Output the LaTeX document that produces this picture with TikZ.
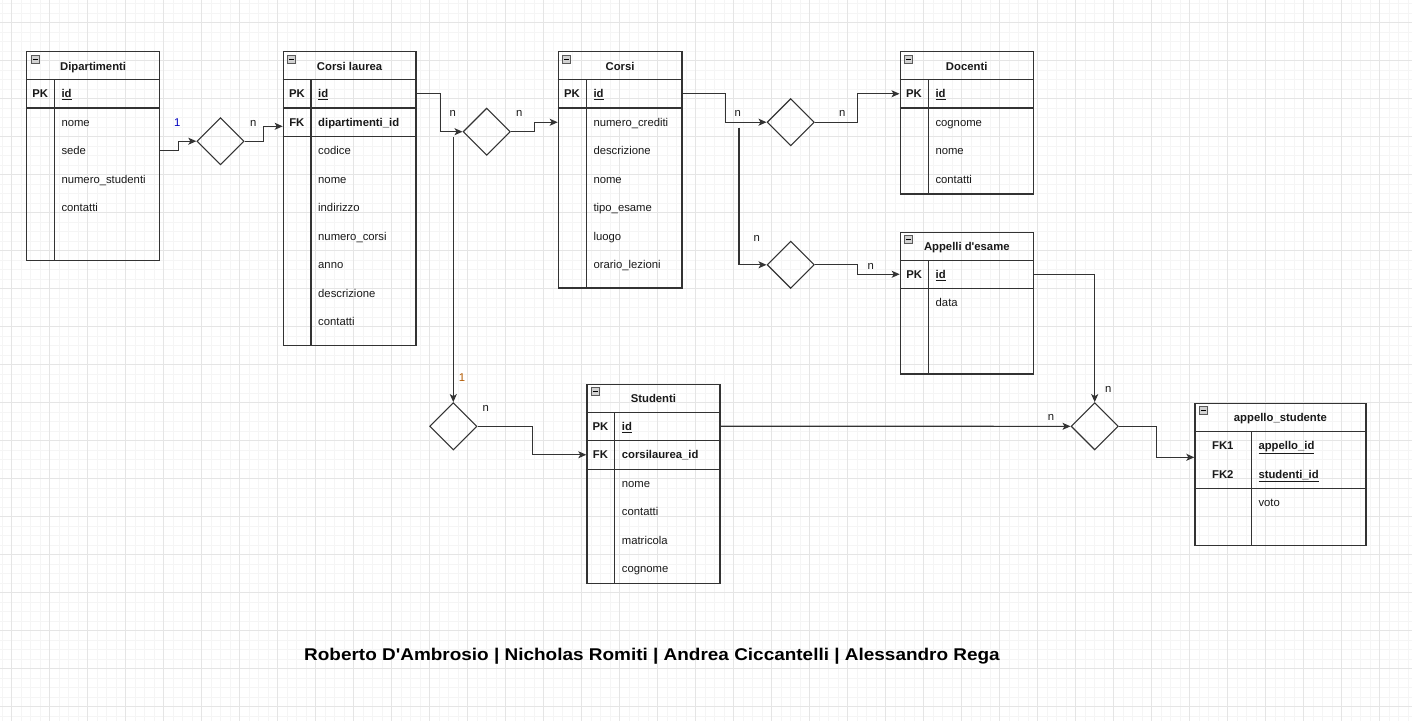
\documentclass[tikz,border=0pt]{standalone}
\usepackage{fontspec}
\setmainfont{Liberation Sans}
\usetikzlibrary{calc,arrows.meta,shapes.geometric}

\tikzset{
  minorgrid/.style={draw=gray!8, line width=0.6pt},
  majorgrid/.style={draw=gray!20, line width=0.6pt},
  tbl/.style={draw=black!80, line width=1.2pt, inner sep=0pt, anchor=north west},
  tblline/.style={draw=black!80, line width=1.2pt},
  iconbox/.style={draw=gray!70!black, fill=gray!35, line width=0.6pt},
  txt/.style={inner sep=0pt, text height=10.5pt, text depth=2.5pt, font=\fontsize{11.3}{13}\selectfont, text=black!90},
  fld/.style={txt, anchor=west},
  keyfld/.style={fld, font=\fontsize{11.3}{13}\selectfont\bfseries},
  key/.style={txt, font=\fontsize{11.3}{13}\selectfont\bfseries},
  ttl/.style={key},
  card/.style={txt},
  rel/.style={diamond, draw=black!80, line width=1.1pt, inner sep=0pt, minimum width=47.3pt, minimum height=47.3pt},
  conn/.style={draw=black!80, line width=1.1pt, -{Stealth[length=8pt,width=7pt,inset=2pt]}}
}

% table frame: name, top-left, size, title
\def\ertab(#1)(#2,#3)(#4,#5)#6{%
  \node[tbl, minimum width=#4pt, minimum height=#5pt] (#1) at (#2,#3) {};
  \draw[tblline] ($(#1.north west)+(0,28.5)$) -- ($(#1.north east)+(0,28.5)$);
  \draw[iconbox] ($(#1.north west)+(5,4)$) rectangle +(8,8);
  \draw[black, line width=0.8pt] ($(#1.north west)+(6.5,8)$) -- +(5,0);
  \node[ttl] (#1-t) at ($(#1.north)+(0,15)$) {#6};}

\begin{document}
\begin{tikzpicture}[x=1pt, y=-1pt]
			%%%%% START %%%%%
			
			\fill[white] (0,0) rectangle (1412,721);
			\useasboundingbox (0,0) rectangle (1412,721);
			
			\foreach \gx in {2,11.5,...,1412} \draw[minorgrid] (\gx,0) -- (\gx,721);
			\foreach \gy in {3.5,13,...,721} \draw[minorgrid] (0,\gy) -- (1412,\gy);
			\foreach \gx in {11.5,49.5,...,1412} \draw[majorgrid] (\gx,0) -- (\gx,721);
			\foreach \gy in {22.5,60.5,...,721} \draw[majorgrid] (0,\gy) -- (1412,\gy);
			
			%% Dipartimenti
			\ertab(dip)(26,51)(133,209){Dipartimenti}
			\draw[tblline] ($(dip.north west)+(0,57)$) -- ($(dip.north east)+(0,57)$);
			\draw[tblline] ($(dip.north west)+(28.3,28.5)$) -- ($(dip.south west)+(28.3,0)$);
			\node[key] (dip-k1) at (40.15,93.75) {PK};
			\node[keyfld] (dip-id) at (61.3,93.75) {\underline{id}};
			\foreach \f [count=\i] in {nome,sede,numero\_studenti,contatti}
				\node[fld] (dip-f\i) at (61.3,93.75+28.5*\i) {\f};
			
			%% Corsi laurea
			\ertab(cl)(282.7,51)(132.6,294){Corsi laurea}
			\draw[tblline] ($(cl.north west)+(0,57)$) -- ($(cl.north east)+(0,57)$);
			\draw[tblline] ($(cl.north west)+(0,85.5)$) -- ($(cl.north east)+(0,85.5)$);
			\draw[tblline] ($(cl.north west)+(28.3,28.5)$) -- ($(cl.south west)+(28.3,0)$);
			\node[key] (cl-k1) at (296.85,93.75) {PK};
			\node[key] (cl-k2) at (296.85,122.25) {FK};
			\node[keyfld] (cl-id) at (318,93.75) {\underline{id}};
			\node[keyfld] (cl-fk) at (318,122.25) {dipartimenti\_id};
			\foreach \f [count=\i] in {codice,nome,indirizzo,numero\_corsi,anno,descrizione,contatti}
				\node[fld] (cl-f\i) at (318,122.25+28.5*\i) {\f};
			
			%% Corsi
			\ertab(cor)(557.7,51)(123.6,236.3){Corsi}
			\draw[tblline] ($(cor.north west)+(0,57)$) -- ($(cor.north east)+(0,57)$);
			\draw[tblline] ($(cor.north west)+(28.6,28.5)$) -- ($(cor.south west)+(28.6,0)$);
			\node[key] (cor-k1) at (572,93.75) {PK};
			\node[keyfld] (cor-id) at (593.3,93.75) {\underline{id}};
			\foreach \f [count=\i] in {numero\_crediti,descrizione,nome,tipo\_esame,luogo,orario\_lezioni}
				\node[fld] (cor-f\i) at (593.3,93.75+28.5*\i) {\f};
			
			%% Docenti
			\ertab(doc)(899.5,51)(133.2,142.3){Docenti}
			\draw[tblline] ($(doc.north west)+(0,57)$) -- ($(doc.north east)+(0,57)$);
			\draw[tblline] ($(doc.north west)+(28.8,28.5)$) -- ($(doc.south west)+(28.8,0)$);
			\node[key] (doc-k1) at (913.9,93.75) {PK};
			\node[keyfld] (doc-id) at (935.3,93.75) {\underline{id}};
			\foreach \f [count=\i] in {cognome,nome,contatti}
				\node[fld] (doc-f\i) at (935.3,93.75+28.5*\i) {\f};
			
			%% Appelli d'esame
			\ertab(app)(899.7,231.7)(133,141.6){Appelli d\textquotesingle esame}
			\draw[tblline] ($(app.north west)+(0,57)$) -- ($(app.north east)+(0,57)$);
			\draw[tblline] ($(app.north west)+(28.8,28.5)$) -- ($(app.south west)+(28.8,0)$);
			\node[key] (app-k1) at (914.2,274.25) {PK};
			\node[keyfld] (app-id) at (935.5,274.25) {\underline{id}};
			\node[fld] (app-f1) at (935.5,302.75) {data};
			
			%% Studenti
			\ertab(stu)(586.3,383.7)(133,199.3){Studenti}
			\draw[tblline] ($(stu.north west)+(0,57)$) -- ($(stu.north east)+(0,57)$);
			\draw[tblline] ($(stu.north west)+(0,85.5)$) -- ($(stu.north east)+(0,85.5)$);
			\draw[tblline] ($(stu.north west)+(28.4,28.5)$) -- ($(stu.south west)+(28.4,0)$);
			\node[key] (stu-k1) at (600.5,426.25) {PK};
			\node[key] (stu-k2) at (600.5,454.75) {FK};
			\node[keyfld] (stu-id) at (621.7,426.25) {\underline{id}};
			\node[keyfld] (stu-fk) at (621.7,454.75) {corsilaurea\_id};
			\foreach \f [count=\i] in {nome,contatti,matricola,cognome}
				\node[fld] (stu-f\i) at (621.7,454.75+28.5*\i) {\f};
			
			%% appello_studente
			\ertab(as)(1194.3,402.7)(171,142.3){appello\_studente}
			\draw[tblline] ($(as.north west)+(0,85.5)$) -- ($(as.north east)+(0,85.5)$);
			\draw[tblline] ($(as.north west)+(57,28.5)$) -- ($(as.south west)+(57,0)$);
			\node[key] (as-k1) at (1222.8,445.5) {FK1};
			\node[key] (as-k2) at (1222.8,474) {FK2};
			\node[keyfld] (as-fk1) at (1258.3,445.5) {\underline{appello\_id}};
			\node[keyfld] (as-fk2) at (1258.3,474) {\underline{studenti\_id}};
			\node[fld] (as-f1) at (1258.3,502.5) {voto};
			
			%% relations
			\node[rel] (d1) at (220.5,141.2) {};
			\node[rel] (d2) at (486.7,131.7) {};
			\node[rel] (d3) at (790.7,122.2) {};
			\node[rel] (d4) at (790.7,264.8) {};
			\node[rel] (d5) at (453.3,426.3) {};
			\node[rel] (d6) at (1094.7,426.3) {};
			
			\coordinate (cl-in) at (282.7,126.3);
			\coordinate (cl-split) at (453.3,137);
			\coordinate (cor-split) at (739,127.7);
			\coordinate (as-in) at (1194.3,457.3);
			
			\draw[conn] (dip.east |- dip-f2) -- ++(18.3,0) |- (d1.west);
			\draw[conn] (d1.east) -- ++(19,0) |- (cl-in);
			\draw[conn] (cl.east |- cl-k1) -- ++(23.7,0) |- (d2.west);
			\draw[conn] (d2.east) -- ++(24,0) |- (cor.west |- cor-f1);
			\draw[conn] (cl-split) -- (d5.north);
			\draw[conn] (d5.east) -- ++(54.7,0) |- (stu.west |- stu-k2);
			\draw[conn] (cor.east |- cor-k1) -- ++(42.7,0) |- (d3.west);
			\draw[conn] (cor-split) |- (d4.west);
			\draw[conn] (d3.east) -- ++(43,0) |- (doc.west |- doc-k1);
			\draw[conn] (d4.east) -- ++(43,0) |- (app.west |- app-k1);
			\draw[conn] (app.east |- app-k1) -| (d6.north);
			\draw[conn] (stu.east |- stu-k1) -- (d6.west);
			\draw[conn] (d6.east) -- ++(37.7,0) |- (as-in);
			
			%% cardinalities
			\node[card, text=blue!75!black] (lab-dip) at (177.3,122.3) {1};
			\node[card] (lab-dipcl) at (253.3,122.3) {n};
			\node[card] (lab-cl) at (452.7,112.7) {n};
			\node[card] (lab-clcor) at (519.3,112.7) {n};
			\node[card, text=orange!70!black] (lab-clstu) at (462,377.7) {1};
			\node[card] (lab-stu) at (485.7,407.7) {n};
			\node[card] (lab-cor) at (737.7,112.7) {n};
			\node[card] (lab-doc) at (842.3,112.7) {n};
			\node[card] (lab-corapp) at (756.7,237) {n};
			\node[card] (lab-app) at (870.7,265) {n};
			\node[card] (lab-appas) at (1108.3,388.3) {n};
			\node[card] (lab-stuas) at (1051,416.7) {n};
			
			\node[font=\fontsize{17}{20}\selectfont\bfseries, inner sep=0pt, xscale=1.115] (credits) at (652,656) {Roberto D\textquotesingle Ambrosio | Nicholas Romiti | Andrea Ciccantelli | Alessandro Rega};
			
			%%%%% END %%%%%
\end{tikzpicture}
\end{document}
